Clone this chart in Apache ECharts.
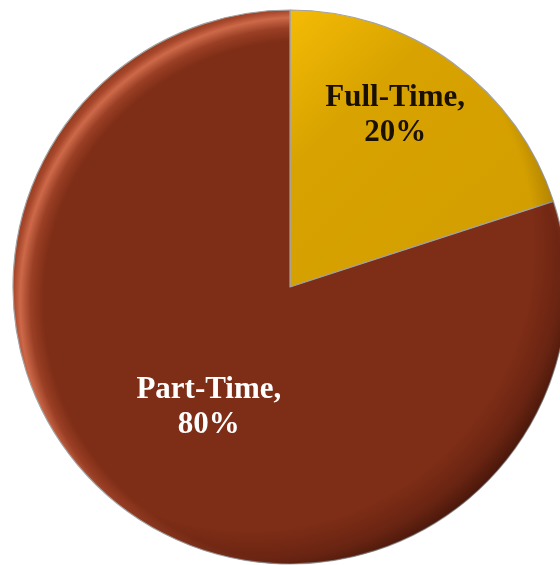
<!DOCTYPE html>
<html>
<head>
<meta charset="utf-8">
<script src="https://cdn.jsdelivr.net/npm/echarts@6/dist/echarts.min.js"></script>
<style>html,body{margin:0;padding:0;background:#fff;}#c{width:560px;height:565px;}</style>
</head>
<body>
<div id="c"></div>
<script>
var categories = ['Full-Time', 'Part-Time'];
var values = [20, 80];

var CX = 290, CY = 287, R = 277;
var colors = [
  {type:'linear', x:0, y:0, x2:1, y2:1, colorStops:[{offset:0,color:'#F4BB05'},{offset:0.3,color:'#D8A300'},{offset:1,color:'#D19D00'}]},
  {type:'radial', x:CX+15, y:CY+15, r:300, global:true, colorStops:[
    {offset:0,color:'#7E2D16'},{offset:0.87,color:'#7E2D16'},{offset:0.915,color:'#9A3F25'},
    {offset:0.95,color:'#CD6949'},{offset:0.972,color:'#A8472B'},{offset:1,color:'#8E371B'}]}
];
var shade = {type:'radial', x:CX-40, y:CY-40, r:R+57, global:true, colorStops:[
  {offset:0,color:'rgba(30,5,0,0)'},{offset:0.85,color:'rgba(30,5,0,0)'},{offset:0.94,color:'rgba(30,5,0,0.22)'},{offset:1,color:'rgba(30,5,0,0.55)'}]};
var labelColors = ['#1a1000', '#ffffff'];
var shifts = [[22,-57],[2,6]];

var chart = echarts.init(document.getElementById('c'), null, {renderer:'canvas'});
chart.setOption({
  animation:false,
  series:[{
    type:'pie',
    z:2,
    center:[CX,CY],
    radius:[0,R],
    startAngle:90,
    clockwise:true,
    data: categories.map(function(n,i){
      return {name:n, value:values[i], itemStyle:{color:colors[i]}, label:{color:labelColors[i]}};
    }),
    itemStyle:{borderColor:'#a3a3a3', borderWidth:1.2},
    label:{
      show:true, position:'inside',
      formatter:'{b},\n{d}%',
      fontFamily:'Liberation Serif, DejaVu Serif, serif',
      fontWeight:'bold', fontSize:31, lineHeight:35
    },
    labelLayout:function(p){ var s=shifts[p.dataIndex]; return {dx:s[0], dy:s[1]}; },
    labelLine:{show:false},
    emphasis:{disabled:true}
  },{
    type:'pie',
    z:3,
    silent:true,
    center:[CX,CY],
    radius:[0,R],
    startAngle:90,
    clockwise:true,
    data: categories.map(function(n,i){ return {name:n, value:values[i]}; }),
    itemStyle:{color:shade, borderWidth:0},
    label:{show:false},
    labelLine:{show:false},
    emphasis:{disabled:true},
    tooltip:{show:false}
  }]
});
</script>
</body>
</html>
